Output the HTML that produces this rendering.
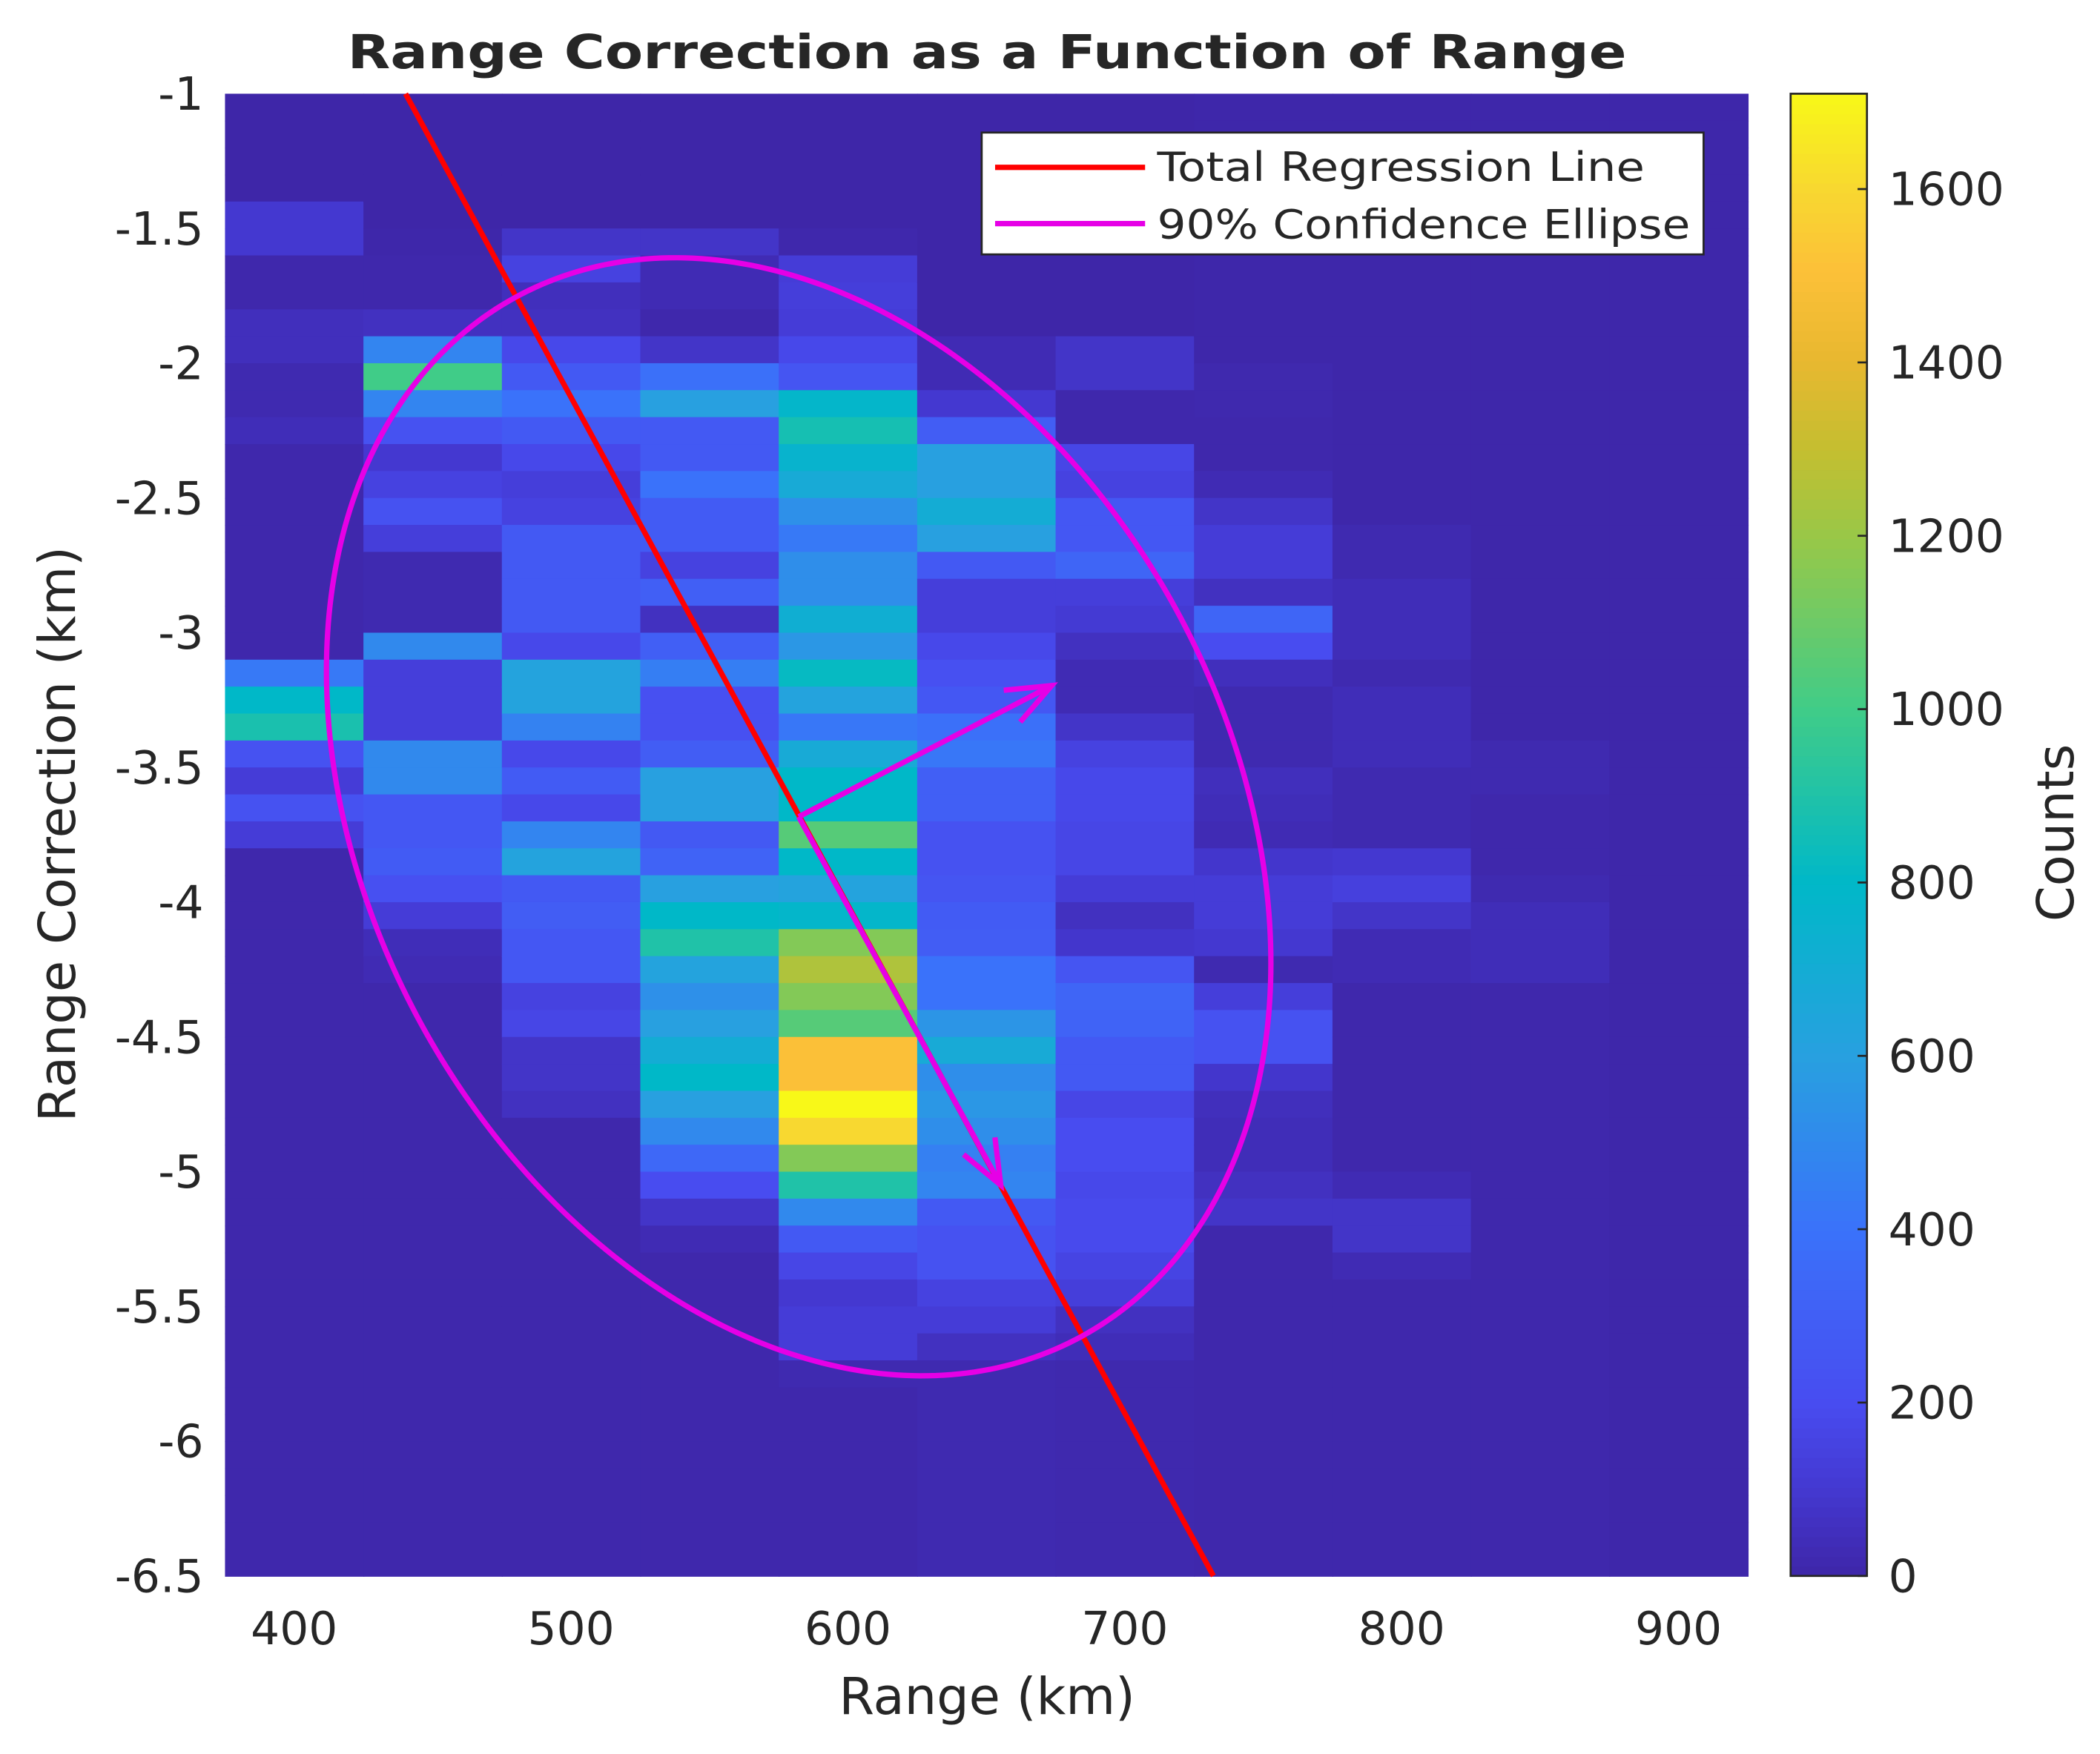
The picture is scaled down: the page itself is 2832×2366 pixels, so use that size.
<!DOCTYPE html>
<html><head><meta charset="utf-8"><style>
html,body{margin:0;padding:0;background:#fff;}
svg{display:block;}
text{font-family:"DejaVu Sans","Liberation Sans",sans-serif;fill:#262626;}
</style></head>
<body>
<svg id="chart" width="2832" height="2366" viewBox="0 0 1568 1310" xmlns="http://www.w3.org/2000/svg">
<rect x="0" y="0" width="1568" height="1310" fill="#ffffff"/>
<text x="737" y="51" text-anchor="middle" font-size="35" font-weight="bold" fill="#000" textLength="955" lengthAdjust="spacingAndGlyphs">Range Correction as a Function of Range</text>
<g id="heat"></g>
<g id="overlay"></g>
<g id="axes"></g>
<g id="cbar"></g>
<g>
  <rect x="733" y="99" width="539" height="91" fill="#fff" stroke="#262626" stroke-width="1.5"/>
  <line x1="743" y1="125" x2="855" y2="125" stroke="#ff0000" stroke-width="4"/>
  <text x="864" y="135" font-size="30" fill="#000" textLength="364" lengthAdjust="spacingAndGlyphs">Total Regression Line</text>
  <line x1="743" y1="167" x2="855" y2="167" stroke="#e600e6" stroke-width="4"/>
  <text x="864" y="178" font-size="30" fill="#000" textLength="398" lengthAdjust="spacingAndGlyphs">90% Confidence Ellipse</text>
</g>
<text x="737" y="1280" text-anchor="middle" font-size="38">Range (km)</text>
<text transform="translate(56,623) rotate(-90)" text-anchor="middle" font-size="38">Range Correction (km)</text>
<text transform="translate(1548,622) rotate(-90)" text-anchor="middle" font-size="38">Counts</text>
</svg>
<script>
// ---- data ----
const xEdgesStart = 375, xBinWidth = 50;
const yEdgeTop = -1, yBinHeight = 0.1;
const col0 = [0,0,0,0,100,100,10,10,50,50,20,20,40,10,10,10,10,10,10,10,10,430,800,880,230,120,230,120,10,10,10,10,10,10,10,10,10,10,10,10,10,10,10,10,10,10,10,10,10,10,10,10,10,10,10];
const col1 = [0,0,0,0,0,5,10,10,60,480,1000,480,230,100,150,230,130,20,20,20,500,130,130,130,500,500,260,260,280,220,120,40,30,10,10,10,10,10,10,10,10,10,10,10,10,10,10,10,10,10,10,10,10,10,10];
const col2 = [0,0,0,0,0,80,150,50,60,180,270,400,270,180,130,150,270,270,270,270,180,620,620,470,180,280,180,480,620,270,290,260,260,150,170,80,80,60,10,10,10,10,10,10,10,10,10,10,10,10,10,10,10,10,10];
const col3 = [0,0,0,0,0,80,30,30,10,80,390,600,270,270,400,280,280,150,300,60,300,450,220,220,290,600,600,270,320,600,800,900,620,530,600,700,800,600,500,350,200,80,30,10,10,10,10,10,10,10,10,10,10,10,10];
const col4 = [0,0,0,0,0,10,120,130,120,180,250,780,870,760,680,530,430,520,520,720,560,820,620,420,680,800,800,1050,800,620,780,1150,1250,1150,1050,1500,1500,1710,1600,1150,900,500,270,170,100,120,120,20,10,10,10,10,10,10,10];
const col5 = [0,0,0,0,0,0,0,0,0,30,30,100,290,600,600,700,600,270,130,130,180,220,260,390,420,300,300,230,230,250,280,290,400,400,550,680,520,560,520,460,480,270,230,230,150,120,60,20,20,20,20,20,20,20,20];
const col6 = [0,0,0,0,0,0,0,0,0,80,80,10,10,170,150,260,260,330,130,110,60,30,30,80,150,180,180,170,170,120,60,90,250,330,320,270,270,170,200,200,180,190,190,160,130,60,40,15,15,15,15,15,15,15,15];
const col7 = [5,5,5,5,5,5,5,5,5,5,15,15,10,10,30,80,120,120,60,330,200,50,20,20,20,50,40,30,90,120,120,100,20,130,230,230,90,50,40,40,60,80,10,10,10,10,10,10,10,10,10,10,10,10,10];
const col8 = [5,5,5,5,5,5,5,5,5,5,5,5,5,5,5,5,20,20,40,40,40,20,40,40,40,20,20,20,100,140,80,30,30,10,10,10,10,10,10,10,30,80,80,30,10,10,10,10,10,10,10,10,10,10,10];
const col9 = [5,5,5,5,5,5,5,5,5,5,5,5,5,5,5,5,5,5,5,5,5,5,5,5,20,20,10,10,10,20,40,40,40,10,10,10,10,10,10,10,10,10,10,10,10,10,10,10,10,10,10,10,10,10,10];
const col10 = [5,5,5,5,5,5,5,5,5,5,5,5,5,5,5,5,5,5,5,5,5,5,5,5,5,5,5,5,5,5,5,5,5,5,5,5,5,5,5,5,5,5,5,5,5,5,5,5,5,5,5,5,5,5,5];
const columns = [col0,col1,col2,col3,col4,col5,col6,col7,col8,col9,col10];
const xTicks = [400,500,600,700,800,900];
const yTicks = [-1,-1.5,-2,-2.5,-3,-3.5,-4,-4.5,-5,-5.5,-6,-6.5];
const yTickLabels = ["-1","-1.5","-2","-2.5","-3","-3.5","-4","-4.5","-5","-5.5","-6","-6.5"];
const cTicks = [0,200,400,600,800,1000,1200,1400,1600];
const cMax = 1710;
const regressionLine = [[440.2,-1],[732,-6.5]];
const ellipseCenter = [582.2,-3.683];
const ellipseMajor = [102.4,-1.927];
const ellipseMinor = [136.4,0.768];
const majorArrowEnd = [655.2,-5.05];
const minorArrowEnd = [673.6,-3.196];

// ---- axes ----
const PX0=168, PX1=1305, PY0=70, PY1=1177;
const xMin=375, xMax=925, yMax=-1, yMin=-6.5;
const sx = v => PX0 + (v-xMin)/(xMax-xMin)*(PX1-PX0);
const sy = v => PY0 + (yMax-v)/(yMax-yMin)*(PY1-PY0);
const CX0=1337, CX1=1394;
const sc = v => PY1 - v/cMax*(PY1-PY0);

const stops=[[0,[62,38,168]],[0.058,[68,56,208]],[0.117,[72,76,240]],[0.234,[58,114,250]],[0.35,[40,160,224]],[0.468,[0,184,200]],[0.585,[64,204,136]],[0.70,[152,200,72]],[0.76,[196,190,48]],[0.82,[232,184,48]],[0.88,[252,192,56]],[0.936,[248,216,48]],[1,[248,248,24]]];
function parula(t){
  t=Math.max(0,Math.min(1,t));
  for(let i=1;i<stops.length;i++){
    if(t<=stops[i][0]){
      const a=stops[i-1],b=stops[i],f=(t-a[0])/(b[0]-a[0]);
      const c=a[1].map((v,k)=>Math.round(v+(b[1][k]-v)*f));
      return `rgb(${c[0]},${c[1]},${c[2]})`;
    }
  }
  return 'rgb(248,248,24)';
}
const NS='http://www.w3.org/2000/svg';
function mk(tag,attrs,parent){const e=document.createElementNS(NS,tag);for(const k in attrs)e.setAttribute(k,attrs[k]);parent.appendChild(e);return e;}

const heat=document.getElementById('heat');
columns.forEach((col,ci)=>{
  const x0=xEdgesStart+ci*xBinWidth, x1=x0+xBinWidth;
  col.forEach((v,ri)=>{
    const yt=yEdgeTop-ri*yBinHeight, yb=yt-yBinHeight;
    const r=mk('rect',{x:sx(x0),y:sy(yt),width:sx(x1)-sx(x0)+0.6,height:sy(yb)-sy(yt)+0.6,fill:parula(v/cMax)},heat);
    
    
  });
});

const ov=document.getElementById('overlay');
const reg=mk('line',{x1:sx(regressionLine[0][0]),y1:sy(regressionLine[0][1]),x2:sx(regressionLine[1][0]),y2:sy(regressionLine[1][1]),stroke:'#ff0000','stroke-width':4},ov);


let d='';
for(let i=0;i<=360;i++){
  const t=i/360*2*Math.PI;
  const x=ellipseCenter[0]+ellipseMajor[0]*Math.cos(t)+ellipseMinor[0]*Math.sin(t);
  const y=ellipseCenter[1]+ellipseMajor[1]*Math.cos(t)+ellipseMinor[1]*Math.sin(t);
  d+=(i?'L':'M')+sx(x).toFixed(2)+','+sy(y).toFixed(2);
}
const ell=mk('path',{d:d,fill:'none',stroke:'#e600e6','stroke-width':4},ov);


function arrow(end,name){
  const x0=sx(ellipseCenter[0]),y0=sy(ellipseCenter[1]),x1=sx(end[0]),y1=sy(end[1]);
  const ang=Math.atan2(y1-y0,x1-x0),h=36,sp=0.38;
  const p=`M${x0},${y0}L${x1},${y1}M${x1-h*Math.cos(ang-sp)},${y1-h*Math.sin(ang-sp)}L${x1},${y1}L${x1-h*Math.cos(ang+sp)},${y1-h*Math.sin(ang+sp)}`;
  const a=mk('path',{d:p,fill:'none',stroke:'#e600e6','stroke-width':4},ov);
  
  
}
arrow(majorArrowEnd,'major-axis-arrow');
arrow(minorArrowEnd,'minor-axis-arrow');

const ax=document.getElementById('axes');
xTicks.forEach(v=>{
  const t=mk('text',{x:sx(v),y:1228,'text-anchor':'middle','font-size':34},ax);
  t.textContent=String(v);
  
  
});
yTicks.forEach((v,i)=>{
  const t=mk('text',{x:152,y:sy(v)+12,'text-anchor':'end','font-size':34},ax);
  t.textContent=yTickLabels[i];
  
  
});

const cb=document.getElementById('cbar');
const N=150;
for(let i=0;i<N;i++){
  const v0=i/N*cMax,v1=(i+1)/N*cMax;
  const r=mk('rect',{x:CX0,y:sc(v1),width:CX1-CX0,height:sc(v0)-sc(v1)+0.6,fill:parula((v0+v1)/2/cMax)},cb);
  
  
}
const frame=mk('rect',{x:CX0,y:PY0,width:CX1-CX0,height:PY1-PY0,fill:'none',stroke:'#262626','stroke-width':1.5},cb);


cTicks.forEach(v=>{
  const tk=mk('line',{x1:CX1-7,y1:sc(v),x2:CX1,y2:sc(v),stroke:'#262626','stroke-width':1.5},cb);
  
  
  const t=mk('text',{x:1410,y:sc(v)+12,'font-size':34},cb);
  t.textContent=String(v);
  
  
});
</script>
</body></html>
